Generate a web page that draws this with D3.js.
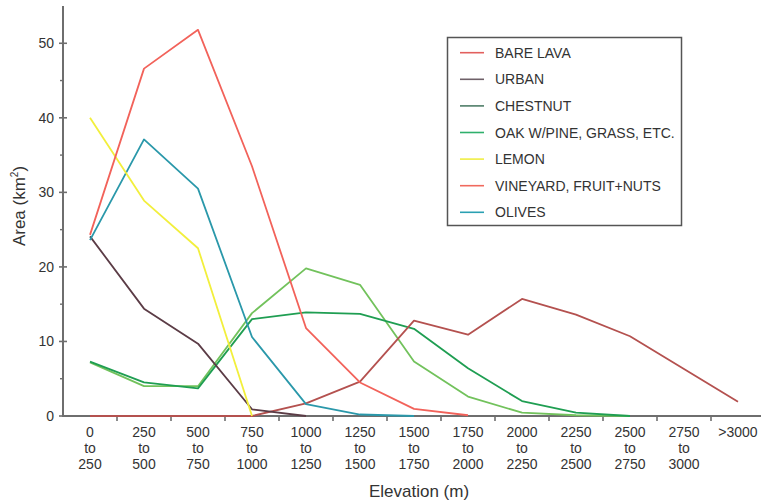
<!DOCTYPE html>
<html><head><meta charset="utf-8">
<script src="https://cdn.jsdelivr.net/npm/d3@7"></script>
<style>
html,body{margin:0;padding:0;background:#fff;}
svg{display:block;font-family:"Liberation Sans",Arial,Helvetica,sans-serif;}
</style></head>
<body>
<svg id="chart" width="761" height="502"></svg>
<script>
// ---- data ---- (null = no value drawn)
const categories = ["0 to 250","250 to 500","500 to 750","750 to 1000","1000 to 1250","1250 to 1500",
  "1500 to 1750","1750 to 2000","2000 to 2250","2250 to 2500","2500 to 2750","2750 to 3000",">3000"];
const seriesNames = ["BARE LAVA","URBAN","CHESTNUT","OAK W/PINE, GRASS, ETC.","LEMON","VINEYARD, FRUIT+NUTS","OLIVES"];
const bareLava  = [0, 0, 0, 0, 1.7, 4.6, 12.8, 10.9, 15.7, 13.6, 10.7, 6.3, 1.9];
const urban     = [24.1, 14.4, 9.7, 0.9, 0, null, null, null, null, null, null, null, null];
const chestnut  = [7.2, 4.0, 4.0, 13.8, 19.8, 17.6, 7.3, 2.6, 0.45, 0.1, 0, null, null];
const oak       = [7.3, 4.5, 3.7, 13.0, 13.9, 13.7, 11.7, 6.4, 2.0, 0.45, 0, null, null];
const lemon     = [40.0, 28.9, 22.5, 0, null, null, null, null, null, null, null, null, null];
const vineyard  = [24.3, 46.6, 51.8, 33.5, 11.8, 4.5, 0.95, 0.1, null, null, null, null, null];
const olives    = [23.6, 37.1, 30.5, 10.6, 1.6, 0.2, 0, null, null, null, null, null, null];
const yMajorTicks = [0, 10, 20, 30, 40, 50];
const yMinorTicks = [5, 15, 25, 35, 45];

// ---- styles ----
const lineColors   = ["#b4514f","#5b3c46","#72c25c","#1f9e52","#f2ef3c","#f2625a","#2a98aa"];
const legendColors = ["#e2605e","#6e6068","#4f7d68","#2fb06c","#f0ee44","#f06a5e","#2aa0b2"];
const seriesValues = [bareLava, urban, chestnut, oak, lemon, vineyard, olives];

const svg = d3.select("#chart");
const mLeft = 63, mBottom = 416, mTop = 6, band = 54;
const x = d3.scaleBand().domain(categories).range([mLeft, mLeft + band * categories.length]).padding(0);
const y = d3.scaleLinear().domain([0, 55]).range([mBottom, mTop]);
const axisColor = "#6e6e6e";

// Y axis
svg.append("line").attr("x1", mLeft).attr("x2", mLeft).attr("y1", mTop).attr("y2", mBottom + 1)
  .attr("stroke", axisColor).attr("stroke-width", 2);
const yAxis = svg.append("g");
yAxis.selectAll("line.maj").data(yMajorTicks).join("line").attr("class","maj")
  .attr("x1", mLeft - 4).attr("x2", mLeft + 4).attr("y1", d => y(d)).attr("y2", d => y(d))
  .attr("stroke", axisColor).attr("stroke-width", 1.6);
yAxis.selectAll("line.min").data(yMinorTicks).join("line").attr("class","min")
  .attr("x1", mLeft - 3).attr("x2", mLeft).attr("y1", d => y(d)).attr("y2", d => y(d))
  .attr("stroke", axisColor).attr("stroke-width", 1.4);
yAxis.selectAll("text").data(yMajorTicks).join("text")
  .attr("x", mLeft - 9).attr("y", d => y(d) + 5).attr("text-anchor", "end")
  .attr("font-size", 14).attr("fill", "#333").text(d => d);

// X axis
svg.append("line").attr("x1", mLeft - 1).attr("x2", 761).attr("y1", mBottom).attr("y2", mBottom)
  .attr("stroke", axisColor).attr("stroke-width", 2);
const xAxis = svg.append("g");
xAxis.selectAll("line").data(categories.slice(1)).join("line")
  .attr("x1", d => x(d)).attr("x2", d => x(d)).attr("y1", mBottom).attr("y2", mBottom + 5)
  .attr("stroke", axisColor).attr("stroke-width", 1.6);
const labels = xAxis.selectAll("text").data(categories).join("text")
  .attr("text-anchor", "middle").attr("font-size", 14).attr("fill", "#333");
labels.each(function(d) {
  const parts = d.indexOf(" to ") >= 0 ? [d.split(" to ")[0], "to", d.split(" to ")[1]] : [d];
  const t = d3.select(this);
  parts.forEach((p, i) => {
    t.append("tspan").attr("x", x(d) + band / 2).attr("y", 437 + i * 16).text(p);
  });
});

// Axis titles
svg.append("text").attr("x", 419).attr("y", 497).attr("text-anchor", "middle")
  .attr("font-size", 17).attr("fill", "#333").text("Elevation (m)");
const yt = svg.append("text").attr("transform", "translate(25,206) rotate(-90)")
  .attr("text-anchor", "middle").attr("font-size", 17).attr("fill", "#333");
yt.append("tspan").text("Area (km");
yt.append("tspan").attr("font-size", 10).attr("dy", -7).text("2");
yt.append("tspan").attr("dy", 7).text(")");

// Lines
const lineGen = d3.line().defined(d => d !== null)
  .x((d, i) => x(categories[i]) + band / 2).y(d => y(d));
const order = [2, 3, 0, 1, 6, 4, 5];
svg.append("g").selectAll("path").data(order).join("path")
  .attr("d", k => lineGen(seriesValues[k]))
  .attr("fill", "none").attr("stroke", k => lineColors[k]).attr("stroke-width", 1.8)
  .attr("stroke-linejoin", "round");

// Legend
const lg = svg.append("g");
lg.append("rect").attr("x", 447.5).attr("y", 37.5).attr("width", 234).attr("height", 188)
  .attr("fill", "#fff").attr("stroke", "#555").attr("stroke-width", 1.5);
const items = lg.selectAll("g.item").data(seriesNames).join("g").attr("class","item")
  .attr("transform", (d, i) => `translate(0,${52.7 + i * 26.6})`);
items.append("line").attr("x1", 460).attr("x2", 484).attr("y1", 0).attr("y2", 0)
  .attr("stroke", (d, i) => legendColors[i]).attr("stroke-width", 1.6);
items.append("text").attr("x", 495).attr("y", 5).attr("font-size", 14).attr("fill", "#333").text(d => d);
</script>
</body></html>
